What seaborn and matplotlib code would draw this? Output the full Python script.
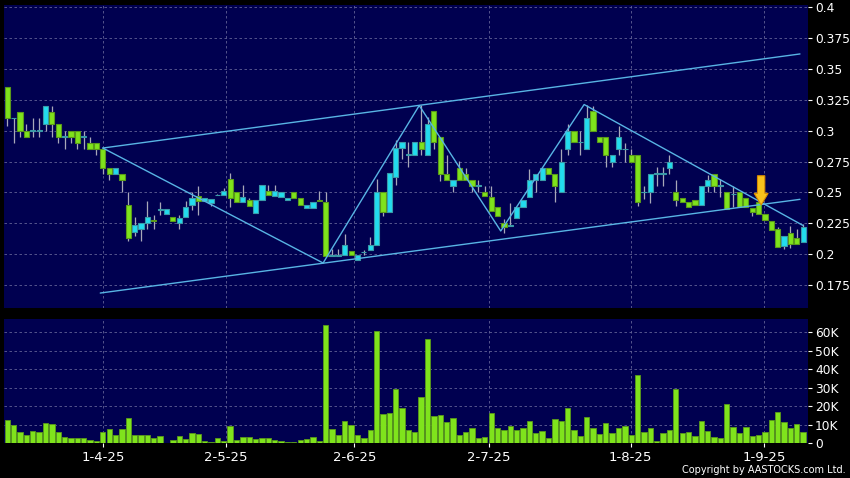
import numpy as np
import pandas as pd
import matplotlib
matplotlib.use("Agg")
import matplotlib.pyplot as plt
import seaborn as sns
from matplotlib.patches import FancyArrow
from matplotlib.ticker import FuncFormatter

# daily OHLC, one entry per trading day (index 0 .. 125)
opens = [0.335, 0.310, 0.315, 0.300, 0.300, 0.300, 0.305, 0.315, 0.305, 0.295,
         0.300, 0.300, 0.295, 0.290, 0.290, 0.285, 0.270, 0.265, 0.265, 0.240,
         0.218, 0.220, 0.225, 0.228, 0.236, 0.2325, 0.230, 0.225, 0.230, 0.240,
         0.2473, 0.243, 0.2417, 0.2477, 0.2482, 0.2605, 0.2504, 0.2422, 0.2436, 0.2332,
         0.2441, 0.251, 0.2469, 0.2463, 0.2436, 0.2504, 0.2458, 0.2376, 0.2376, 0.244,
         0.2422, 0.1986, 0.1986, 0.1994, 0.2027, 0.1951, 0.2014, 0.2033, 0.2073, 0.2504,
         0.234, 0.2627, 0.2858, 0.2806, 0.2806, 0.2904, 0.2806, 0.3155, 0.295, 0.265,
         0.2555, 0.2697, 0.265, 0.2604, 0.2555, 0.2501, 0.246, 0.2383, 0.2255, 0.2228,
         0.2296, 0.2378, 0.246, 0.2601, 0.2601, 0.2697, 0.265, 0.2501, 0.2855, 0.2999,
         0.2904, 0.2855, 0.3155, 0.295, 0.2946, 0.275, 0.2852, 0.2852, 0.2803, 0.2803,
         0.250, 0.250, 0.265, 0.265, 0.2695, 0.250, 0.2453, 0.242, 0.2436, 0.2399,
         0.2555, 0.265, 0.2555, 0.250, 0.2485, 0.250, 0.2453, 0.2372, 0.2426, 0.2326,
         0.2272, 0.2204, 0.207, 0.2169, 0.2129, 0.2097]
highs = [0.335, 0.310, 0.315, 0.305, 0.310, 0.310, 0.320, 0.320, 0.305, 0.300,
         0.300, 0.300, 0.300, 0.295, 0.290, 0.285, 0.270, 0.270, 0.265, 0.250,
         0.230, 0.225, 0.243, 0.232, 0.242, 0.2365, 0.230, 0.232, 0.243, 0.250,
         0.255, 0.2455, 0.2444, 0.249, 0.2535, 0.266, 0.2504, 0.2559, 0.2458, 0.2441,
         0.2559, 0.2559, 0.2559, 0.250, 0.2458, 0.2504, 0.2458, 0.240, 0.2422, 0.251,
         0.2504, 0.204, 0.204, 0.2163, 0.2027, 0.1994, 0.2036, 0.2136, 0.2605, 0.2504,
         0.2654, 0.2926, 0.2905, 0.2904, 0.2904, 0.321, 0.3114, 0.3155, 0.295, 0.2806,
         0.2604, 0.2751, 0.2697, 0.2604, 0.2604, 0.2555, 0.2555, 0.2383, 0.2283, 0.2413,
         0.2378, 0.2438, 0.2691, 0.265, 0.2697, 0.2697, 0.265, 0.2855, 0.3051, 0.2999,
         0.2999, 0.321, 0.320, 0.295, 0.2946, 0.2803, 0.3035, 0.290, 0.2852, 0.2803,
         0.2555, 0.265, 0.2703, 0.2703, 0.2803, 0.2604, 0.2453, 0.242, 0.2436, 0.2555,
         0.2641, 0.265, 0.261, 0.250, 0.2555, 0.250, 0.2453, 0.2372, 0.2426, 0.2326,
         0.2272, 0.2223, 0.215, 0.2231, 0.2204, 0.2245]
lows = [0.304, 0.290, 0.295, 0.295, 0.295, 0.295, 0.300, 0.295, 0.290, 0.285,
        0.290, 0.285, 0.285, 0.285, 0.280, 0.265, 0.260, 0.265, 0.250, 0.211,
        0.215, 0.211, 0.220, 0.220, 0.232, 0.2325, 0.227, 0.220, 0.230, 0.236,
        0.232, 0.243, 0.2387, 0.2477, 0.2482, 0.238, 0.2422, 0.2422, 0.2392, 0.2332,
        0.2441, 0.2482, 0.2469, 0.2463, 0.2436, 0.2458, 0.240, 0.2376, 0.2376, 0.243,
        0.1986, 0.1986, 0.1986, 0.1994, 0.1994, 0.1951, 0.1994, 0.2033, 0.2073, 0.2313,
        0.234, 0.2558, 0.2767, 0.2705, 0.2806, 0.2806, 0.2806, 0.2855, 0.2596, 0.2604,
        0.2501, 0.2604, 0.2604, 0.2501, 0.2501, 0.2473, 0.235, 0.231, 0.2174, 0.2228,
        0.2296, 0.2378, 0.246, 0.2501, 0.2601, 0.265, 0.2419, 0.2501, 0.2806, 0.2904,
        0.2806, 0.2855, 0.2999, 0.2904, 0.2703, 0.2703, 0.2803, 0.275, 0.275, 0.2393,
        0.2446, 0.2415, 0.2555, 0.2555, 0.265, 0.2393, 0.242, 0.2385, 0.2399, 0.2399,
        0.2501, 0.2501, 0.2463, 0.2366, 0.2383, 0.238, 0.238, 0.2313, 0.2326, 0.228,
        0.2196, 0.2056, 0.2043, 0.2047, 0.208, 0.2097]
closes = [0.310, 0.310, 0.300, 0.295, 0.300, 0.300, 0.320, 0.305, 0.295, 0.295,
          0.295, 0.290, 0.295, 0.285, 0.285, 0.270, 0.265, 0.270, 0.260, 0.213,
          0.2235, 0.225, 0.230, 0.227, 0.236, 0.2365, 0.227, 0.229, 0.2385, 0.2455,
          0.243, 0.2455, 0.2444, 0.2477, 0.251, 0.2458, 0.2422, 0.2463, 0.2392, 0.2441,
          0.2559, 0.2482, 0.251, 0.250, 0.2458, 0.2458, 0.240, 0.240, 0.2422, 0.243,
          0.1986, 0.1993, 0.1993, 0.2076, 0.1994, 0.1994, 0.2014, 0.2073, 0.2504, 0.234,
          0.2654, 0.2858, 0.2905, 0.2806, 0.2904, 0.2855, 0.3051, 0.2904, 0.265, 0.2604,
          0.2604, 0.2604, 0.2604, 0.2555, 0.2555, 0.2473, 0.235, 0.231, 0.222, 0.2233,
          0.2378, 0.2438, 0.2601, 0.265, 0.2697, 0.265, 0.2555, 0.2746, 0.2999, 0.2904,
          0.2904, 0.310, 0.2999, 0.2904, 0.2803, 0.2803, 0.2946, 0.2852, 0.275, 0.242,
          0.250, 0.265, 0.265, 0.265, 0.275, 0.2442, 0.242, 0.2385, 0.2399, 0.2555,
          0.2601, 0.2555, 0.2555, 0.2366, 0.249, 0.238, 0.238, 0.234, 0.2326, 0.228,
          0.2196, 0.2056, 0.215, 0.2083, 0.208, 0.2223]
volume_k = [12.6, 9.5, 5.9, 4.5, 6.7, 5.9, 10.6, 10.3, 6.1, 3.1,
            2.9, 2.9, 2.9, 1.8, 1.1, 5.9, 7.4, 4.5, 7.4, 13.7,
            4.3, 4.1, 4.3, 2.7, 4.0, 0.2, 1.8, 3.6, 2.3, 5.2,
            4.7, 1.3, 0.7, 2.7, 1.3, 9.4, 1.8, 3.4, 3.4, 2.2,
            2.5, 2.5, 1.6, 1.1, 0.4, 0.5, 1.6, 2.2, 3.1, 1.3,
            63.8, 7.7, 4.1, 11.9, 9.9, 4.3, 2.9, 7.0, 60.7, 15.9,
            16.0, 29.5, 19.1, 7.0, 5.8, 24.7, 56.4, 14.4, 15.1, 11.4,
            13.5, 4.1, 5.8, 8.1, 2.9, 3.4, 16.0, 7.9, 7.2, 9.4,
            6.8, 8.1, 12.1, 5.6, 6.5, 2.9, 12.8, 12.1, 18.7, 7.0,
            4.0, 14.2, 8.3, 5.0, 10.6, 5.6, 7.9, 9.4, 4.5, 37.1,
            5.8, 7.9, 1.1, 5.6, 7.2, 29.4, 5.6, 6.1, 3.8, 12.1,
            6.3, 3.1, 2.9, 21.1, 8.5, 5.6, 8.5, 4.0, 4.1, 5.8,
            12.3, 16.9, 11.4, 8.3, 10.5, 6.1]

date_labels = ["1-4-25", "2-5-25", "2-6-25", "2-7-25", "1-8-25", "1-9-25"]
date_pos = [15, 34.3, 54.5, 75.6, 97.9, 118.9]

price_ticks = [0.175, 0.2, 0.225, 0.25, 0.275, 0.3, 0.325, 0.35, 0.375, 0.4]
vol_ticks = [0, 10000, 20000, 30000, 40000, 50000, 60000]

# drawn trend lines: (bar index, price)
upper_channel = [(15.0, 0.2859), (124.5, 0.3620)]
lower_channel = [(14.6, 0.1686), (124.5, 0.2444)]
zigzag = [(15.0, 0.2859), (49.6, 0.1929), (64.7, 0.3203), (77.5, 0.2188),
          (90.6, 0.3211), (125.0, 0.2232)]
signal_bar = 118.4
signal_top, signal_tip = 0.2635, 0.2398

df = pd.DataFrame({"open": opens, "high": highs, "low": lows,
                   "close": closes, "volume": np.array(volume_k) * 1000})
df["idx"] = np.arange(len(df))

BG = "#000050"
GREEN = "#7fe31c"
GREEN_EDGE = "#5a9a1a"
CYAN = "#22dcee"
CYAN_EDGE = "#3a9aa8"
LINE = "#58b4e4"
GRID = "#626296"

sns.set_theme(style="dark", rc={"axes.facecolor": BG, "figure.facecolor": "black"})
plt.rcParams["font.family"] = ["DejaVu Sans"]

fig = plt.figure(figsize=(8.5, 4.78), dpi=100, facecolor="black")
ax1 = fig.add_axes([4 / 850, 1 - 308 / 478, 804 / 850, 303 / 478])
ax2 = fig.add_axes([4 / 850, 1 - 443 / 478, 804 / 850, 124 / 478])

# candles
up = df["close"] >= df["open"]
body_lo = df[["open", "close"]].min(axis=1)
body_h = (df["close"] - df["open"]).abs().clip(lower=0.0003)
ax1.vlines(df["idx"], df["low"], df["high"], color="#a8a8b8", linewidth=0.9, zorder=2)
ax1.bar(df["idx"], body_h, bottom=body_lo, width=0.82,
        color=np.where(up, CYAN, GREEN), edgecolor=np.where(up, CYAN_EDGE, GREEN_EDGE),
        linewidth=0.8, zorder=3)

for pts in (upper_channel, lower_channel, zigzag):
    xs, ys = zip(*pts)
    ax1.plot(xs, ys, color=LINE, linewidth=1.0, zorder=4)

ax1.add_patch(FancyArrow(signal_bar, signal_top, 0, signal_tip - signal_top,
                         width=1.15, head_width=2.2, head_length=0.0095,
                         length_includes_head=True, facecolor="#f8c21c",
                         edgecolor="#d88a00", linewidth=0.8, zorder=6))

# volume
sns.barplot(data=df, x="idx", y="volume", native_scale=True, width=0.84,
            color=GREEN, saturation=1, edgecolor=GREEN_EDGE, linewidth=0.6,
            errorbar=None, ax=ax2, zorder=3)

for ax in (ax1, ax2):
    ax.set_facecolor(BG)
    ax.set_xlim(-0.52, 125.76)
    ax.set_xticks(date_pos)
    ax.grid(True, color=GRID, linestyle=(0, (3, 3)), linewidth=0.6)
    ax.set_axisbelow(True)
    for s in ax.spines.values():
        s.set_visible(False)
    ax.tick_params(axis="y", left=False, right=True, labelleft=False, labelright=True,
                   colors="white", length=3, width=0.8, labelsize=8.8, pad=2)
    ax.set_xlabel("")
    ax.set_ylabel("")

ax1.set_ylim(0.1565, 0.4016)
ax1.set_yticks(price_ticks)
ax1.yaxis.set_major_formatter(FuncFormatter(lambda v, p: f"{v:g}"))
ax1.tick_params(axis="x", bottom=False, labelbottom=False)

ax2.set_ylim(0, 67200)
ax2.set_yticks(vol_ticks)
ax2.yaxis.set_major_formatter(FuncFormatter(lambda v, p: "0" if v == 0 else f"{v / 1000:.0f}K"))
ax2.set_xticklabels(date_labels)
ax2.tick_params(axis="x", bottom=True, colors="white", length=3, width=0.8,
                labelsize=9.5, pad=3)

fig.text(0.995, 0.016, "Copyright by AASTOCKS.com Ltd.", ha="right", va="center",
         color="white", fontsize=7)

fig.savefig("out.png", dpi=100, facecolor="black")
